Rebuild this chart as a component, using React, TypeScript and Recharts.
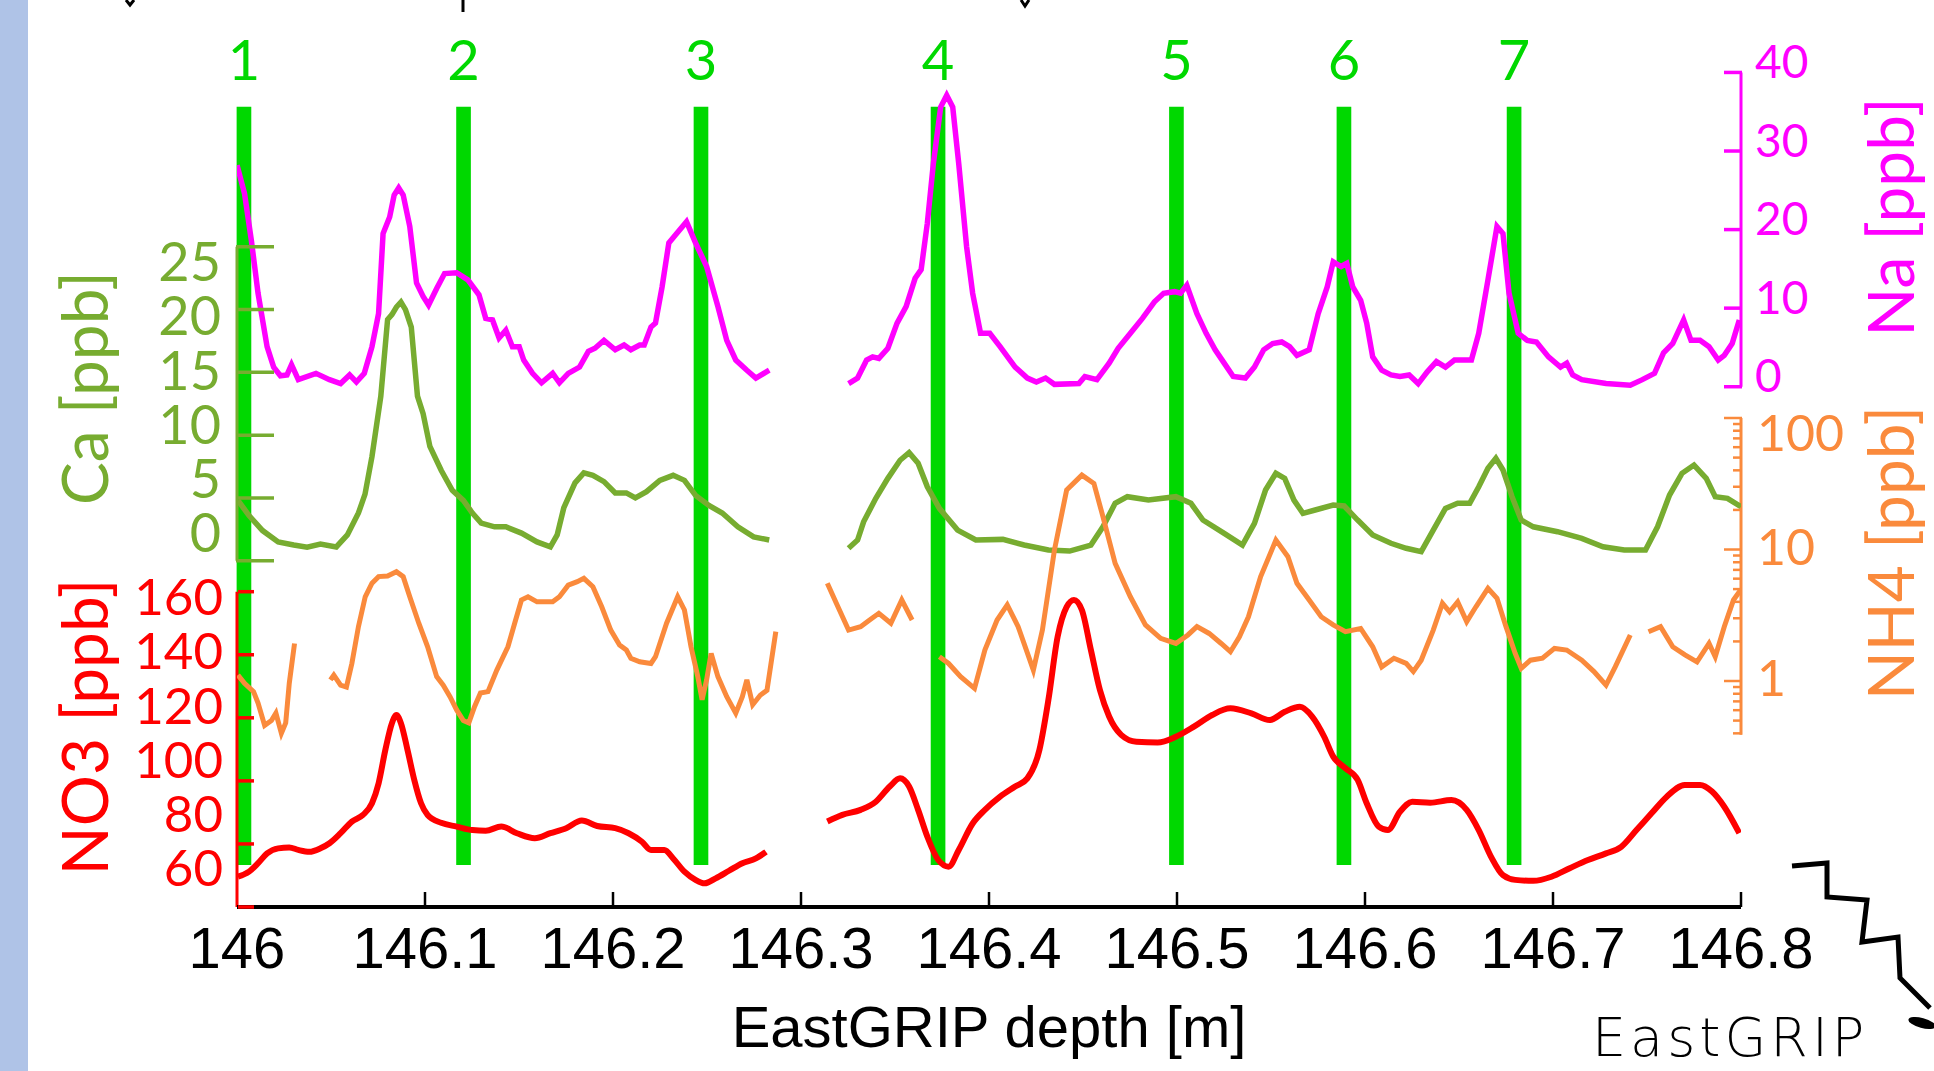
import React from 'react';
import { ComposedChart, Line, XAxis, YAxis, ReferenceLine, ReferenceArea } from 'recharts';

const NA_COLOR = '#FF00FF';
const CA_COLOR = '#77AC30';
const NH4_COLOR = '#FA8A3C';
const NO3_COLOR = '#FF0000';
const BAR_COLOR = '#00D800';

type Pt = [number, number];

// ---- tick values ----
const depthTicks = [146, 146.1, 146.2, 146.3, 146.4, 146.5, 146.6, 146.7, 146.8];
const naTicks = [0, 10, 20, 30, 40];
const caTicks = [0, 5, 10, 15, 20, 25];
const no3Ticks = [60, 80, 100, 120, 140, 160];
const nh4MajorTicks = [1, 10, 100];
const nh4MinorTicks = [0.4, 0.5, 0.6, 0.7, 0.8, 0.9, 2, 3, 4, 5, 6, 7, 8, 9, 20, 30, 40, 50, 60, 70, 80, 90];

// ---- tie point markers ----
const markerDepths = [146.0037, 146.1205, 146.2468, 146.3729, 146.4997, 146.5888, 146.6793];
const markerLabels = ['1', '2', '3', '4', '5', '6', '7'];

// ---- Na [ppb] ----
const naSeg1: Pt[] = [
  [146.0, 28.2], [146.004, 24.6], [146.0076, 18.7], [146.0112, 11.9], [146.016, 5.1], [146.0195, 2.5],
  [146.0231, 1.4], [146.0266, 1.5], [146.029, 2.8], [146.0326, 0.9], [146.042, 1.7], [146.0492, 0.9],
  [146.0551, 0.4], [146.0599, 1.5], [146.0635, 0.6], [146.0677, 1.7], [146.0718, 5.1], [146.0753, 9.3],
  [146.0777, 19.5], [146.0812, 21.6], [146.0836, 24.4], [146.086, 25.3], [146.0884, 24.4], [146.0919, 20.4],
  [146.0955, 13.2], [146.099, 11.5], [146.1019, 10.4], [146.1062, 12.5], [146.1104, 14.4], [146.1169, 14.5],
  [146.1228, 13.6], [146.1287, 11.7], [146.1323, 8.7], [146.1359, 8.5], [146.1394, 6.2], [146.143, 7.2],
  [146.1465, 5.1], [146.1501, 5.1], [146.1525, 3.4], [146.1572, 1.7], [146.162, 0.5], [146.1679, 1.7],
  [146.1715, 0.5], [146.1762, 1.7], [146.1822, 2.5], [146.1869, 4.5], [146.1904, 4.9], [146.1952, 5.9],
  [146.2012, 4.7], [146.2059, 5.3], [146.2095, 4.7], [146.2142, 5.3], [146.2166, 5.3], [146.2202, 7.6],
  [146.2226, 8.1], [146.2261, 12.7], [146.2297, 18.3], [146.2332, 19.3], [146.2391, 21.0], [146.2439, 18.3],
  [146.2498, 15.3], [146.2558, 10.2], [146.2605, 5.9], [146.2653, 3.4], [146.2712, 2.1], [146.276, 1.1],
  [146.2831, 2.1],
];
const naSeg2: Pt[] = [
  [146.3253, 0.4], [146.3301, 1.1], [146.3349, 3.4], [146.3381, 3.8], [146.3414, 3.6], [146.3462, 4.9],
  [146.3511, 8.1], [146.3559, 10.2], [146.3607, 13.8], [146.3639, 14.9], [146.3672, 20.8], [146.3704, 28.4],
  [146.3743, 35.6], [146.3775, 37.1], [146.3807, 35.6], [146.3839, 28.4], [146.3881, 17.8], [146.3913, 11.9],
  [146.3955, 6.8], [146.4004, 6.8], [146.4059, 5.1], [146.4139, 2.5], [146.4204, 1.1], [146.4252, 0.6],
  [146.4301, 1.1], [146.4348, 0.3], [146.4478, 0.4], [146.451, 1.3], [146.4574, 0.9], [146.4639, 3.0],
  [146.4687, 4.9], [146.4752, 6.8], [146.4816, 8.7], [146.488, 10.8], [146.4929, 11.9], [146.4987, 12.1],
  [146.5019, 11.9], [146.5052, 12.9], [146.5106, 9.3], [146.5155, 6.8], [146.5203, 4.7], [146.5251, 3.0],
  [146.5299, 1.3], [146.5364, 1.1], [146.5412, 2.5], [146.5461, 4.7], [146.5509, 5.5], [146.5557, 5.7],
  [146.5599, 5.1], [146.5638, 4.0], [146.5703, 4.7], [146.5751, 9.3], [146.5799, 12.7], [146.5831, 15.9],
  [146.5873, 15.3], [146.5903, 15.7], [146.5935, 12.7], [146.5977, 11.0], [146.6009, 8.1], [146.6041, 3.8],
  [146.6089, 2.1], [146.6138, 1.5], [146.6186, 1.3], [146.6235, 1.5], [146.6283, 0.4], [146.6331, 1.9],
  [146.638, 3.2], [146.6428, 2.5], [146.6476, 3.4], [146.6524, 3.4], [146.6566, 3.4], [146.6605, 6.8],
  [146.6654, 13.6], [146.6702, 20.4], [146.6734, 19.5], [146.6766, 11.9], [146.6815, 6.8], [146.6863, 5.9],
  [146.6912, 5.7], [146.6976, 3.8], [146.704, 2.5], [146.7073, 3.0], [146.7105, 1.5], [146.7153, 0.9],
  [146.7282, 0.4], [146.7411, 0.2], [146.7475, 0.9], [146.754, 1.7], [146.7588, 4.3], [146.7637, 5.5],
  [146.7695, 8.5], [146.7734, 5.9], [146.7782, 5.9], [146.783, 5.1], [146.7879, 3.4], [146.7911, 4.0],
  [146.7953, 5.5], [146.7991, 8.5],
];

// ---- Ca [ppb] ----
const caSeg1: Pt[] = [
  [146.0005, 4.8], [146.0064, 3.6], [146.0136, 2.4], [146.0219, 1.5], [146.0302, 1.25], [146.0373, 1.07],
  [146.0444, 1.33], [146.0528, 1.1], [146.0587, 2.05], [146.0646, 3.8], [146.0681, 5.3], [146.0718, 8.3],
  [146.0765, 13.1], [146.0801, 19.2], [146.0824, 19.6], [146.0848, 20.2], [146.0872, 20.6], [146.0896, 20.0],
  [146.0927, 18.6], [146.096, 13.1], [146.099, 11.7], [146.1026, 9.1], [146.1086, 7.2], [146.1145, 5.6],
  [146.1204, 4.8], [146.1252, 3.8], [146.1299, 3.0], [146.137, 2.7], [146.143, 2.7], [146.1513, 2.2],
  [146.1596, 1.5], [146.1667, 1.1], [146.1703, 2.05], [146.1738, 4.2], [146.1798, 6.2], [146.1845, 7.0],
  [146.1893, 6.8], [146.1952, 6.3], [146.2012, 5.4], [146.2071, 5.4], [146.2119, 5.0], [146.2178, 5.5],
  [146.2249, 6.4], [146.232, 6.8], [146.238, 6.4], [146.2439, 5.2], [146.251, 4.4], [146.2581, 3.8],
  [146.2664, 2.7], [146.2748, 1.9], [146.2831, 1.65],
];
const caSeg2: Pt[] = [
  [146.3253, 0.99], [146.3301, 1.65], [146.3333, 3.1], [146.3398, 4.97], [146.3462, 6.56], [146.3527, 8.0],
  [146.3575, 8.6], [146.3623, 7.76], [146.3672, 5.89], [146.3736, 4.17], [146.3833, 2.44], [146.393, 1.65],
  [146.4074, 1.7], [146.4187, 1.25], [146.4316, 0.85], [146.4429, 0.77], [146.4542, 1.25], [146.4606, 2.7],
  [146.4671, 4.57], [146.4736, 5.1], [146.4848, 4.83], [146.4994, 5.1], [146.5074, 4.57], [146.5138, 3.24],
  [146.5251, 2.18], [146.5348, 1.25], [146.5412, 2.98], [146.5471, 5.63], [146.5526, 6.96], [146.5573, 6.56],
  [146.5622, 4.83], [146.567, 3.77], [146.5735, 4.04], [146.5831, 4.43], [146.5889, 4.36], [146.5961, 3.24],
  [146.6041, 2.05], [146.6138, 1.39], [146.6219, 0.99], [146.6299, 0.72], [146.6363, 2.44], [146.6428, 4.17],
  [146.6493, 4.57], [146.6557, 4.57], [146.6605, 5.89], [146.6654, 7.36], [146.6696, 8.15], [146.6734, 7.22],
  [146.6782, 5.1], [146.6831, 3.24], [146.6895, 2.7], [146.7024, 2.31], [146.7153, 1.78], [146.7266, 1.11],
  [146.7379, 0.85], [146.7492, 0.85], [146.7556, 2.7], [146.762, 5.23], [146.7686, 6.96], [146.775, 7.62],
  [146.7815, 6.56], [146.7863, 5.1], [146.7928, 4.97], [146.8, 4.3],
];

// ---- NH4 [ppb] (log axis) ----
const nh4SegA: Pt[] = [
  [146.0005, 1.11], [146.004, 0.96], [146.0088, 0.83], [146.0112, 0.68], [146.0147, 0.46], [146.0183, 0.5],
  [146.0207, 0.57], [146.0236, 0.4], [146.0259, 0.48], [146.0278, 0.96], [146.0306, 1.93],
];
const nh4SegB: Pt[] = [
  [146.0497, 1.02], [146.0515, 1.11], [146.0551, 0.93], [146.0582, 0.9], [146.0611, 1.36], [146.0646, 2.59],
  [146.0682, 4.37], [146.0718, 5.54], [146.0753, 6.22], [146.0801, 6.28], [146.0848, 6.78], [146.0884, 6.22],
  [146.0919, 4.37], [146.0967, 2.75], [146.1014, 1.82], [146.1062, 1.08], [146.1097, 0.93], [146.1133, 0.76],
  [146.1169, 0.6], [146.1204, 0.5], [146.1233, 0.48], [146.1264, 0.64], [146.1295, 0.81], [146.1335, 0.83],
  [146.1382, 1.21], [146.1441, 1.82], [146.1477, 2.75], [146.1513, 4.13], [146.1548, 4.37], [146.1596, 4.0],
  [146.1679, 4.0], [146.1715, 4.37], [146.1762, 5.36], [146.181, 5.69], [146.1845, 6.04], [146.1893, 5.21],
  [146.194, 3.67], [146.1988, 2.44], [146.2035, 1.88], [146.2071, 1.72], [146.2095, 1.49], [146.2142, 1.4],
  [146.2202, 1.36], [146.2226, 1.53], [146.2285, 2.75], [146.2344, 4.37], [146.238, 3.47], [146.2415, 1.82],
  [146.2451, 1.08], [146.2474, 0.72], [146.2498, 1.02], [146.2522, 1.62], [146.2558, 1.08], [146.2605, 0.76],
  [146.2653, 0.57], [146.2688, 0.76], [146.2712, 1.02], [146.2743, 0.66], [146.2783, 0.78], [146.2819, 0.85],
  [146.2866, 2.37],
];
const nh4SegC: Pt[] = [
  [146.314, 5.54], [146.3188, 3.9], [146.3253, 2.44], [146.3317, 2.59], [146.3365, 2.91], [146.3414, 3.27],
  [146.3478, 2.75], [146.3536, 4.13], [146.3591, 2.91],
];
const nh4SegD: Pt[] = [
  [146.3736, 1.53], [146.3785, 1.36], [146.3849, 1.08], [146.3923, 0.88], [146.3978, 1.72], [146.4043, 2.91],
  [146.4097, 3.79], [146.4155, 2.59], [146.4236, 1.21], [146.4284, 2.44], [146.4348, 9.9], [146.4413, 28.4],
  [146.4494, 36.8], [146.4558, 31.8], [146.4606, 17.8], [146.4671, 7.85], [146.4752, 4.37], [146.4832, 2.67],
  [146.4913, 2.11], [146.4994, 1.93], [146.5058, 2.24], [146.5106, 2.59], [146.5171, 2.3], [146.5235, 1.93],
  [146.5284, 1.67], [146.5332, 2.17], [146.538, 3.08], [146.5445, 6.22], [146.5526, 11.8], [146.559, 8.81],
  [146.5638, 5.54], [146.5703, 4.13], [146.5767, 3.08], [146.5831, 2.67], [146.5896, 2.37], [146.5977, 2.51],
  [146.6041, 1.82], [146.6089, 1.28], [146.6154, 1.49], [146.6219, 1.36], [146.6257, 1.18], [146.6299, 1.44],
  [146.6363, 2.44], [146.6412, 3.9], [146.645, 3.36], [146.6493, 4.0], [146.6541, 2.83], [146.659, 3.67],
  [146.6654, 5.06], [146.6702, 4.26], [146.675, 2.59], [146.6799, 1.62], [146.6831, 1.25], [146.688, 1.44],
  [146.6944, 1.49], [146.7008, 1.77], [146.7073, 1.72], [146.7153, 1.44], [146.7218, 1.18], [146.7282, 0.93],
  [146.7331, 1.28], [146.7411, 2.24],
];
const nh4SegE: Pt[] = [
  [146.7508, 2.37], [146.7572, 2.59], [146.7637, 1.82], [146.7702, 1.58], [146.7766, 1.4], [146.783, 1.93],
  [146.7863, 1.53], [146.7911, 2.59], [146.796, 4.13], [146.7998, 4.92],
];

// ---- NO3 [ppb] ----
const no3Seg1: Pt[] = [
  [146.0005, 69.6], [146.0064, 71.2], [146.0112, 73.9], [146.016, 77.0], [146.0219, 78.6], [146.0278, 78.9],
  [146.0326, 78.1], [146.0385, 77.5], [146.0444, 78.6], [146.0492, 80.2], [146.0551, 83.4], [146.0611, 87.1],
  [146.067, 89.2], [146.0718, 92.9], [146.0753, 99.2], [146.0789, 109.8], [146.0824, 118.3], [146.0848, 120.9],
  [146.0872, 118.3], [146.0907, 109.8], [146.0943, 100.3], [146.0979, 92.9], [146.1014, 89.2], [146.1086, 86.7],
  [146.1169, 85.5], [146.1252, 84.4], [146.1323, 84.2], [146.1406, 85.5], [146.1489, 83.4], [146.1584, 81.8],
  [146.1667, 83.4], [146.1751, 85.0], [146.1834, 87.4], [146.1916, 85.7], [146.2012, 85.0], [146.2083, 83.4],
  [146.2154, 80.7], [146.2202, 78.1], [146.2273, 78.1], [146.232, 75.4], [146.238, 71.2], [146.2439, 68.6],
  [146.2487, 67.5], [146.2546, 69.1], [146.2617, 71.5], [146.2688, 73.9], [146.276, 75.4], [146.2814, 77.5],
];
const no3Seg2: Pt[] = [
  [146.314, 87.1], [146.322, 89.2], [146.3317, 90.8], [146.3398, 93.4], [146.3472, 98.2], [146.3527, 100.8],
  [146.3575, 98.2], [146.3623, 90.8], [146.3672, 82.3], [146.373, 74.9], [146.3785, 72.8], [146.3839, 78.1],
  [146.3913, 86.5], [146.3978, 90.8], [146.4059, 95.0], [146.4139, 98.2], [146.4204, 100.8], [146.4268, 109.8],
  [146.4316, 125.7], [146.4365, 145.7], [146.4413, 155.2], [146.4452, 157.4], [146.4494, 154.2], [146.4542, 141.5],
  [146.459, 128.8], [146.4639, 120.4], [146.4703, 114.6], [146.4784, 112.4], [146.4897, 112.2], [146.4994, 114.0],
  [146.509, 117.2], [146.5187, 120.9], [146.5284, 123.0], [146.5396, 121.4], [146.5493, 119.3], [146.5573, 121.9],
  [146.5654, 123.5], [146.5719, 120.4], [146.5783, 114.0], [146.5831, 107.7], [146.5896, 104.0], [146.5961, 100.3],
  [146.6009, 92.9], [146.6073, 85.5], [146.6122, 84.4], [146.6186, 90.2], [146.6251, 93.4], [146.6347, 93.1],
  [146.646, 93.9], [146.6541, 90.8], [146.6605, 84.4], [146.667, 76.0], [146.6734, 70.1], [146.6799, 68.6],
  [146.6895, 68.3], [146.6992, 69.6], [146.7089, 72.3], [146.7186, 74.9], [146.7282, 77.0], [146.7363, 79.1],
  [146.7444, 84.4], [146.7524, 89.7], [146.7605, 95.0], [146.7701, 98.7], [146.7782, 98.7], [146.7846, 96.6],
  [146.7911, 91.8], [146.7991, 83.4],
];

type Row = { d: number; v: number | null };
function toRows(...segs: Pt[][]): Row[] {
  const rows: Row[] = [];
  segs.forEach((s, i) => {
    if (i > 0) {
      const prev = segs[i - 1][segs[i - 1].length - 1][0];
      rows.push({ d: (prev + s[0][0]) / 2, v: null });
    }
    s.forEach(([d, v]) => rows.push({ d, v }));
  });
  return rows;
}

const naData = toRows(naSeg1, naSeg2);
const caData = toRows(caSeg1, caSeg2);
const nh4Data = toRows(nh4SegA, nh4SegB, nh4SegC, nh4SegD, nh4SegE);
const no3Data = toRows(no3Seg1, no3Seg2);

const LABEL_FONT = 'Lato, "Open Sans", sans-serif';
const ARIAL = '"Liberation Sans", Arial, sans-serif';

const XTick = (p: any) => {
  const { x, y, payload, index } = p;
  return (
    <g>
      {index > 0 && <line x1={x} x2={x} y1={y} y2={y - 15} stroke="#000" strokeWidth={2.5} />}
      <text x={x} y={y + 61} textAnchor="middle" fontSize={58} fontFamily={ARIAL} fill="#000">
        {String(payload.value)}
      </text>
    </g>
  );
};

const CaTick = (p: any) => {
  const { y, payload } = p;
  const x = p.x + 1;
  const v = payload.value as number;
  const cy = y - 27.7 + 1.71 * v;
  return (
    <g>
      <line x1={x - 2} x2={x + 36} y1={y} y2={y} stroke={CA_COLOR} strokeWidth={3.5} />
      <text x={x - 17} y={cy + 19.3} textAnchor="end" fontSize={54} fontFamily={LABEL_FONT} fill={CA_COLOR}>
        {v}
      </text>
    </g>
  );
};

const No3Tick = (p: any) => {
  const { y, payload } = p;
  const x = p.x + 2;
  const v = payload.value as number;
  const cy = y - 39 + (v - 60) * 0.44;
  return (
    <g>
      <line x1={x} x2={x + 16} y1={y} y2={y} stroke={NO3_COLOR} strokeWidth={3.5} />
      <text x={x - 15} y={cy + 18.3} textAnchor="end" fontSize={51} fontFamily={LABEL_FONT} fill={NO3_COLOR}>
        {v}
      </text>
    </g>
  );
};

const NaTick = (p: any) => {
  const { y, payload } = p;
  const x = p.x + 1;
  const v = payload.value as number;
  return (
    <g>
      <line x1={x - 18} x2={x} y1={y} y2={y} stroke={NA_COLOR} strokeWidth={3.5} />
      <text x={x + 13} y={y - 11 + 16.5} textAnchor="start" fontSize={46} fontFamily={LABEL_FONT} fill={NA_COLOR}>
        {v}
      </text>
    </g>
  );
};

const Nh4Tick = (p: any) => {
  const { y, payload } = p;
  const x = p.x;
  const v = payload.value as number;
  const major = nh4MajorTicks.includes(v);
  const off = v === 100 ? 15 : -3;
  return (
    <g>
      <line x1={x - (major ? 18 : 9)} x2={x} y1={y} y2={y} stroke={NH4_COLOR} strokeWidth={2.5} />
      {major && (
        <text x={x + 15} y={y + off + 18} textAnchor="start" fontSize={50} fontFamily={LABEL_FONT} fill={NH4_COLOR}>
          {v}
        </text>
      )}
    </g>
  );
};

const nh4AllTicks = [...nh4MinorTicks, ...nh4MajorTicks].sort((a, b) => a - b);
const HALF_BAR = 0.0039;

export default function App() {
  return (
    <div style={{ position: 'absolute', left: 0, top: 0, width: 1934, height: 1071, background: '#ffffff', overflow: 'hidden' }}>
      <div style={{ position: 'absolute', left: 0, top: 0, width: 28, height: 1071, background: '#AFC3E7' }} />
      <div style={{ position: 'absolute', left: 0, top: 0 }}>
        <ComposedChart width={1934} height={1071} margin={{ top: 40, right: 191, bottom: 0, left: 235 }}>
          <XAxis
            xAxisId="x"
            type="number"
            dataKey="d"
            domain={[146, 146.8]}
            allowDataOverflow
            ticks={depthTicks}
            interval={0}
            tickSize={0}
            tickMargin={0}
            tickLine={false}
            tick={(p: any) => <XTick {...p} />}
            axisLine={{ stroke: '#000', strokeWidth: 4 }}
            height={164}
            label={{ value: 'EastGRIP depth [m]', position: 'insideBottom', offset: 24, fill: '#000', fontSize: 58, fontFamily: ARIAL }}
          />
          <YAxis yAxisId="ca" orientation="left" type="number" domain={[-27.57, 41.46]} allowDataOverflow ticks={caTicks}
            interval={0} width={1} tickSize={0} tickMargin={0} tickLine={false} axisLine={false} tick={(p: any) => <CaTick {...p} />} />
          <YAxis yAxisId="no3" orientation="left" type="number" domain={[60, 334.98]} allowDataOverflow ticks={no3Ticks}
            interval={0} width={1} tickSize={0} tickMargin={0} tickLine={false} axisLine={false} tick={(p: any) => <No3Tick {...p} />} />
          <YAxis yAxisId="na" orientation="right" type="number" domain={[-66.22, 44.13]} allowDataOverflow ticks={naTicks}
            interval={0} width={1} tickSize={0} tickMargin={0} tickLine={false} axisLine={false} tick={(p: any) => <NaTick {...p} />} />
          <YAxis yAxisId="nh4" orientation="right" type="number" scale="log" domain={[0.01912, 74900]} allowDataOverflow ticks={nh4AllTicks}
            interval={0} width={1} tickSize={0} tickMargin={0} tickLine={false} axisLine={false} tick={(p: any) => <Nh4Tick {...p} />} />

          {markerDepths.map((d, i) => (
            <ReferenceArea
              key={'m' + i}
              xAxisId="x"
              yAxisId="na"
              x1={d - HALF_BAR}
              x2={d + HALF_BAR}
              y1={-60.88}
              y2={35.64}
              ifOverflow="visible"
              fill={BAR_COLOR}
              fillOpacity={1}
              stroke="none"
              label={{ value: markerLabels[i], position: 'top', offset: 27, fill: BAR_COLOR, fontSize: 56, fontFamily: LABEL_FONT }}
            />
          ))}

          <ReferenceLine xAxisId="x" yAxisId="ca" segment={[{ x: 146, y: 0 }, { x: 146, y: 25 }]} stroke={CA_COLOR} strokeWidth={3} ifOverflow="visible" />
          <ReferenceLine xAxisId="x" yAxisId="no3" segment={[{ x: 146, y: 60 }, { x: 146, y: 160 }]} stroke={NO3_COLOR} strokeWidth={3} ifOverflow="visible" />
          <ReferenceLine xAxisId="x" yAxisId="na" segment={[{ x: 146.8, y: 0 }, { x: 146.8, y: 40 }]} stroke={NA_COLOR} strokeWidth={3} ifOverflow="visible" />
          <ReferenceLine xAxisId="x" yAxisId="nh4" segment={[{ x: 146.8, y: 0.39 }, { x: 146.8, y: 100 }]} stroke={NH4_COLOR} strokeWidth={3} ifOverflow="visible" />

          <Line xAxisId="x" yAxisId="na" data={naData} dataKey="v" type="linear" stroke={NA_COLOR} strokeWidth={5.5} dot={false} isAnimationActive={false} connectNulls={false} />
          <Line xAxisId="x" yAxisId="ca" data={caData} dataKey="v" type="linear" stroke={CA_COLOR} strokeWidth={5.5} dot={false} isAnimationActive={false} connectNulls={false} />
          <Line xAxisId="x" yAxisId="nh4" data={nh4Data} dataKey="v" type="linear" stroke={NH4_COLOR} strokeWidth={5} dot={false} isAnimationActive={false} connectNulls={false} />
          <Line xAxisId="x" yAxisId="no3" data={no3Data} dataKey="v" type="monotone" stroke={NO3_COLOR} strokeWidth={6} dot={false} isAnimationActive={false} connectNulls={false} />
        </ComposedChart>
      </div>
      <svg width={1934} height={1071} style={{ position: 'absolute', left: 0, top: 0, pointerEvents: 'none' }}>
        <text x={108} y={388} transform="rotate(-90 108 388)" textAnchor="middle" fontSize={64} fontFamily={LABEL_FONT} fill={CA_COLOR}>Ca [ppb]</text>
        <text x={108} y={727} transform="rotate(-90 108 727)" textAnchor="middle" fontSize={64} fontFamily={LABEL_FONT} fill={NO3_COLOR}>NO3 [ppb]</text>
        <text x={1914} y={217} transform="rotate(-90 1914 217)" textAnchor="middle" fontSize={64} fontFamily={LABEL_FONT} fill={NA_COLOR}>Na [ppb]</text>
        <text x={1914} y={553} transform="rotate(-90 1914 553)" textAnchor="middle" fontSize={64} fontFamily={LABEL_FONT} fill={NH4_COLOR}>NH4 [ppb]</text>
        <path d="M126,0 L130,5 L134,0 M463,0 L463,12 M1021,0 L1025,6 L1029,0" fill="none" stroke="#000" strokeWidth={3} />
        <polyline
          points="1792,866 1827,863 1827,897 1867,900 1862,942 1898,937 1900,978 1930,1008"
          fill="none" stroke="#000" strokeWidth={5} strokeLinejoin="miter"
        />
        <ellipse cx={1922} cy={1023} rx={14} ry={5} transform="rotate(15 1922 1023)" fill="#000" />
        <text x={1592} y={1056} fontSize={54} fontWeight={200} fontFamily="'DejaVu Sans', sans-serif" fill="#000" letterSpacing={4}>EastGRIP</text>
      </svg>
    </div>
  );
}
